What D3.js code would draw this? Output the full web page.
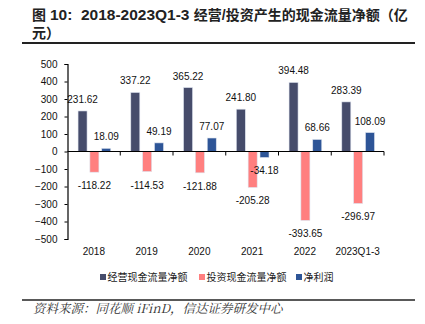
<!DOCTYPE html>
<html>
<head>
<meta charset="utf-8">
<script src="https://cdn.jsdelivr.net/npm/d3@7"></script>
<style>
  body { margin: 0; background: #fff; }
  svg { display: block; font-family: "Liberation Sans", Arial, sans-serif; }
</style>
</head>
<body>
<div id="chart"></div>
<script>
// Data
var years = ["2018", "2019", "2020", "2021", "2022", "2023Q1-3"];
var seriesNames = ["经营现金流量净额", "投资现金流量净额", "净利润"];
var operating = [231.62, 337.22, 365.22, 241.80, 394.48, 283.39];
var investing = [-118.22, -114.53, -121.88, -205.28, -393.65, -296.97];
var netProfit = [18.09, 49.19, 77.07, -34.18, 68.66, 108.09];
var yTicks = [500, 400, 300, 200, 100, 0, -100, -200, -300, -400, -500];

var colors = ["#464c6b", "#ff7f7f", "#2e5597"];
var width = 425, height = 324;

var svg = d3.select("#chart").append("svg")
  .attr("width", width)
  .attr("height", height);

// Title (latin parts a bit larger, like the source)
var title = svg.append("text")
  .attr("x", 32)
  .attr("y", 20)
  .attr("font-weight", "bold")
  .attr("fill", "#222")
  .style("white-space", "pre")
  .attr("font-family", "'Liberation Sans', 'Noto Sans CJK SC', sans-serif");
title.append("tspan").attr("x", 32).attr("font-size", 14).text("图 ");
title.append("tspan").attr("font-size", 15.5).text("10:  2018-2023Q1-3 ");
title.append("tspan").attr("font-size", 14).text("经营/投资产生的现金流量净额（亿");
title.append("tspan").attr("x", 32).attr("y", 38).attr("font-size", 14).text("元）");

svg.append("line")
  .attr("x1", 22).attr("x2", 415)
  .attr("y1", 43).attr("y2", 43)
  .attr("stroke", "#222").attr("stroke-width", 2);

// Scales
var x = d3.scaleBand()
  .domain(years)
  .range([67.5, 384]);

var xInner = d3.scaleBand()
  .domain(d3.range(3))
  .range([x.bandwidth() * 0.2, x.bandwidth() * 0.82])
  .paddingInner(0.24);

var y = d3.scaleLinear()
  .domain([-500, 500])
  .range([239, 64]);

// Bars
var rows = years.map(function(yr, i) {
  return { year: yr, values: [operating[i], investing[i], netProfit[i]] };
});

var groups = svg.selectAll(".grp")
  .data(rows)
  .enter().append("g")
  .attr("class", "grp")
  .attr("transform", function(d) { return "translate(" + x(d.year) + ",0)"; });

groups.selectAll("rect")
  .data(function(d) { return d.values; })
  .enter().append("rect")
  .attr("x", function(d, j) { return xInner(j); })
  .attr("y", function(d) { return y(Math.max(0, d)); })
  .attr("width", xInner.bandwidth())
  .attr("height", function(d) { return Math.abs(y(d) - y(0)); })
  .attr("fill", function(d, j) { return colors[j]; })
  .attr("stroke", "#dde3ee")
  .attr("stroke-width", 0.6);

groups.selectAll(".lbl")
  .data(function(d) { return d.values; })
  .enter().append("text")
  .attr("class", "lbl")
  .attr("x", function(d, j) { return xInner(j) + xInner.bandwidth() / 2; })
  .attr("y", function(d) { return d >= 0 ? y(d) - 8 : y(d) + 17; })
  .attr("text-anchor", "middle")
  .attr("font-size", 10)
  .attr("fill", "#111")
  .text(function(d) { return d.toFixed(2); });

// Axes
var yAxis = d3.axisLeft(y)
  .tickValues(yTicks)
  .tickSize(3)
  .tickPadding(7)
  .tickFormat(d3.format("d"));

var gy = svg.append("g")
  .attr("transform", "translate(67.5,0)")
  .call(yAxis);
gy.select(".domain").attr("stroke", "#000").attr("stroke-width", 1.2);
gy.selectAll(".tick line").attr("stroke", "#000");
gy.selectAll(".tick text").attr("font-size", 10).attr("fill", "#111")
  .attr("font-family", "'Liberation Sans', Arial, sans-serif");

var gx = svg.append("g")
  .attr("transform", "translate(0," + y(0) + ")");
gx.append("line")
  .attr("x1", 67.5).attr("x2", 384)
  .attr("stroke", "#000").attr("stroke-width", 1.2);
gx.selectAll(".xt")
  .data(years.slice(1).concat(["end"]))
  .enter().append("line")
  .attr("x1", function(d) { return d === "end" ? 384 : x(d); })
  .attr("x2", function(d) { return d === "end" ? 384 : x(d); })
  .attr("y1", 0).attr("y2", 4)
  .attr("stroke", "#000");

svg.selectAll(".xl")
  .data(years)
  .enter().append("text")
  .attr("class", "xl")
  .attr("x", function(d) { return x(d) + x.bandwidth() / 2; })
  .attr("y", 254.5)
  .attr("text-anchor", "middle")
  .attr("font-size", 10)
  .attr("fill", "#111")
  .text(function(d) { return d; });

// Legend
var legendX = [100, 199, 296];
var legend = svg.selectAll(".leg")
  .data(seriesNames)
  .enter().append("g")
  .attr("class", "leg")
  .attr("transform", function(d, i) { return "translate(" + legendX[i] + ",277)"; });
legend.append("rect")
  .attr("x", 0).attr("y", -3)
  .attr("width", 6).attr("height", 6)
  .attr("fill", function(d, i) { return colors[i]; });
legend.append("text")
  .attr("x", 7.5).attr("y", 3.5)
  .attr("font-size", 10)
  .attr("fill", "#222")
  .attr("font-family", "'Noto Sans CJK SC', sans-serif")
  .text(function(d) { return d; });

// Footer
svg.append("line")
  .attr("x1", 22).attr("x2", 415)
  .attr("y1", 300).attr("y2", 300)
  .attr("stroke", "#222").attr("stroke-width", 1.5);

svg.append("text")
  .attr("x", 33).attr("y", 313)
  .attr("font-size", 12.5)
  .attr("font-style", "italic")
  .attr("fill", "#333")
  .attr("font-family", "'Noto Serif CJK SC', 'Liberation Serif', serif")
  .text("资料来源：同花顺 iFinD，信达证券研发中心");
</script>
</body>
</html>
